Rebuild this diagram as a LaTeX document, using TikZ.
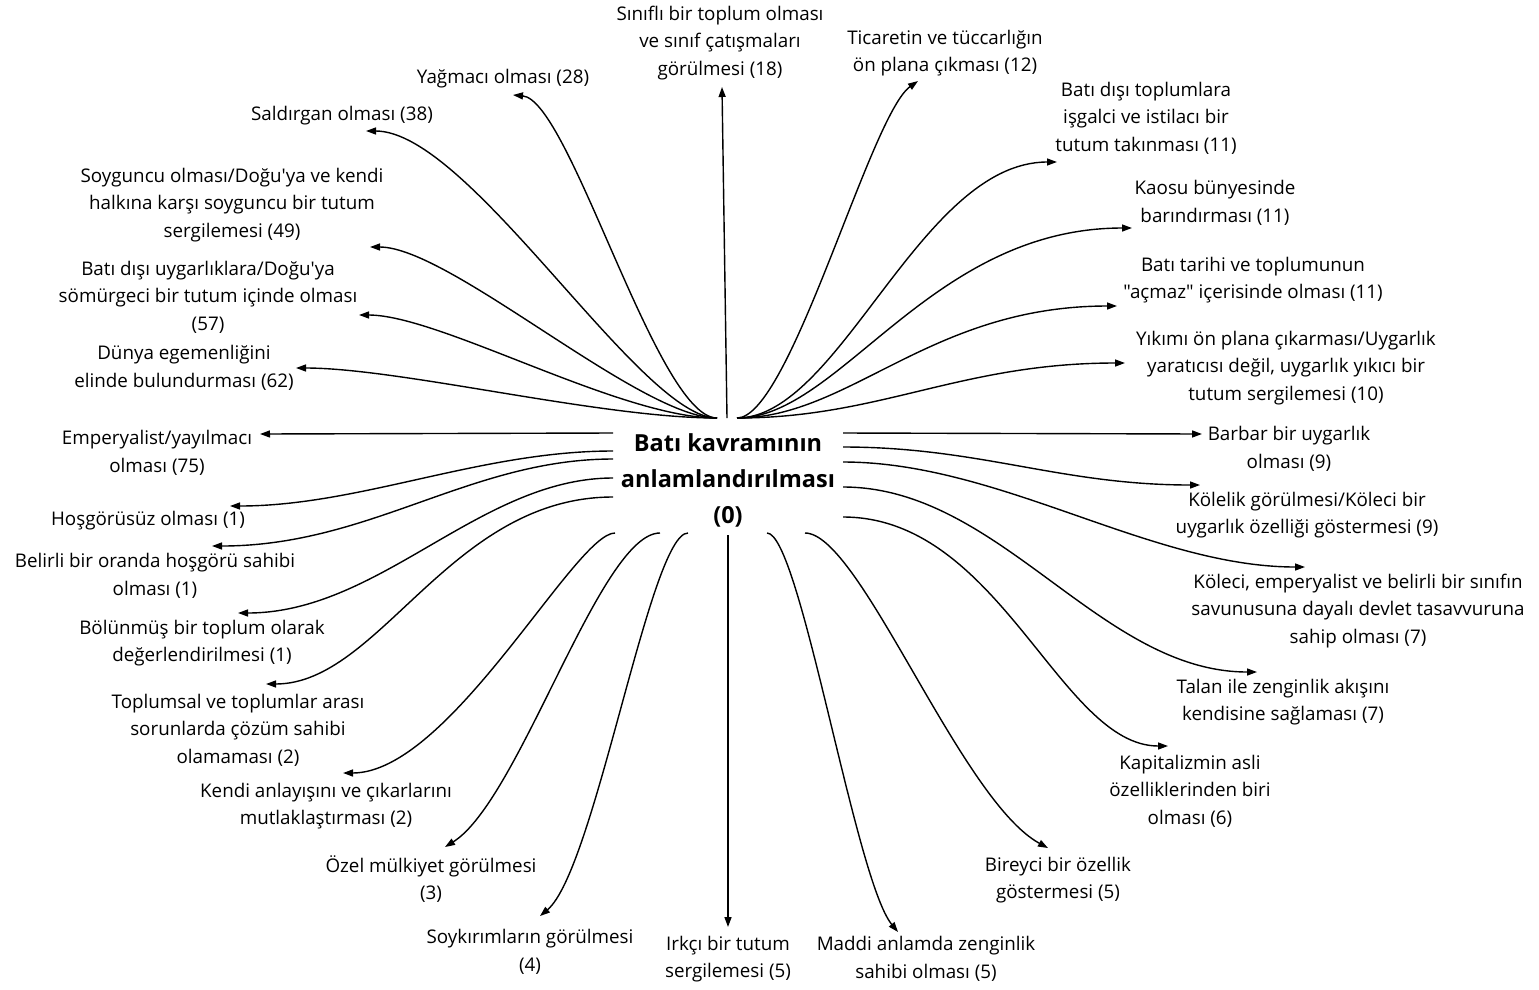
\documentclass[tikz,border=0pt]{standalone}
\usepackage{fontspec}
\setmainfont{Open Sans}[Ligatures=TeXOff]
\usetikzlibrary{arrows.meta}
\newcommand\lblfont{\fontsize{18.8}{27.5}\selectfont}
\newcommand\ctrfont{\fontsize{23.5}{36}\selectfont\bfseries}
\begin{document}
\begin{tikzpicture}[x=1pt,y=-1pt,
  lbl/.style={font=\lblfont, align=center, inner sep=0pt},
  ctr/.style={font=\ctrfont, align=center, inner sep=0pt},
  arr/.style={-{Triangle[length=10pt,width=7pt]}, line width=1.4pt}]
\useasboundingbox[fill=white] (0,0) rectangle (1539,989);
% central node
\node[ctr] (c) at (728,480) {Batı kavramının\\anlamlandırılması\\(0)};
% labels
\node[lbl] (t1) at (720,43) {Sınıflı bir toplum olması\\ve sınıf çatışmaları\\görülmesi (18)};
\node[lbl] (t2) at (945,53) {Ticaretin ve tüccarlığın\\ön plana çıkması (12)};
\node[lbl] (l1) at (503,79) {Yağmacı olması (28)};
\node[lbl] (l2) at (342,116) {Saldırgan olması (38)};
\node[lbl] (l3) at (232,205) {Soyguncu olması/Doğu'ya ve kendi\\halkına karşı soyguncu bir tutum\\sergilemesi (49)};
\node[lbl] (l4) at (208,297) {Batı dışı uygarlıklara/Doğu'ya\\sömürgeci bir tutum içinde olması\\(57)};
\node[lbl] (l5) at (184,368) {Dünya egemenliğini\\elinde bulundurması (62)};
\node[lbl] (l6) at (157,453) {Emperyalist/yayılmacı\\olması (75)};
\node[lbl] (l7) at (148,521) {Hoşgörüsüz olması (1)};
\node[lbl] (l8) at (155,576) {Belirli bir oranda hoşgörü sahibi\\olması (1)};
\node[lbl] (l9) at (202,643) {Bölünmüş bir toplum olarak\\değerlendirilmesi (1)};
\node[lbl] (l10) at (238,730) {Toplumsal ve toplumlar arası\\sorunlarda çözüm sahibi\\olamaması (2)};
\node[lbl] (l11) at (326,806) {Kendi anlayışını ve çıkarlarını\\mutlaklaştırması (2)};
\node[lbl] (b1) at (431,879) {Özel mülkiyet görülmesi\\(3)};
\node[lbl] (b2) at (530,952) {Soykırımların görülmesi\\(4)};
\node[lbl] (b3) at (728,959) {Irkçı bir tutum\\sergilemesi (5)};
\node[lbl] (b4) at (926,959) {Maddi anlamda zenginlik\\sahibi olması (5)};
\node[lbl] (r1) at (1058,880) {Bireyci bir özellik\\göstermesi (5)};
\node[lbl] (r2) at (1190,791) {Kapitalizmin asli\\özelliklerinden biri\\olması (6)};
\node[lbl] (r3) at (1283,702) {Talan ile zenginlik akışını\\kendisine sağlaması (7)};
\node[lbl] (r4) at (1358,611) {Köleci, emperyalist ve belirli bir sınıfın\\savunusuna dayalı devlet tasavvuruna\\sahip olması (7)};
\node[lbl] (r5) at (1307,515) {Kölelik görülmesi/Köleci bir\\uygarlık özelliği göstermesi (9)};
\node[lbl] (r6) at (1289,449) {Barbar bir uygarlık\\olması (9)};
\node[lbl] (r7) at (1286,368) {Yıkımı ön plana çıkarması/Uygarlık\\yaratıcısı değil, uygarlık yıkıcı bir\\tutum sergilemesi (10)};
\node[lbl] (r8) at (1253,280) {Batı tarihi ve toplumunun\\"açmaz" içerisinde olması (11)};
\node[lbl] (r9) at (1215,203) {Kaosu bünyesinde\\barındırması (11)};
\node[lbl] (r10) at (1146,118) {Batı dışı toplumlara\\işgalci ve istilacı bir\\tutum takınması (11)};
% start points on the central node
\coordinate (sTL) at (717,418);
\coordinate (sT) at (727,418);
\coordinate (sTR) at (737,418);
\coordinate (sL1) at (613,433);
\coordinate (sL2) at (613,451);
\coordinate (sL3) at (613,459);
\coordinate (sL4) at (613,478);
\coordinate (sL5) at (613,497);
\coordinate (sB1) at (615,533);
\coordinate (sB2) at (660,533);
\coordinate (sB3) at (688,533);
\coordinate (sB4) at (728,535);
\coordinate (sB5) at (767,533);
\coordinate (sB6) at (805,533);
\coordinate (sR1) at (843,433);
\coordinate (sR2) at (843,447);
\coordinate (sR3) at (843,462);
\coordinate (sR4) at (843,487);
\coordinate (sR5) at (843,517);
% arrow tips near the labels
\coordinate (et1) at (722,87);
\coordinate (et2) at (918,81);
\coordinate (el1) at (513,95);
\coordinate (el2) at (366,131);
\coordinate (el3) at (370,247);
\coordinate (el4) at (359,315);
\coordinate (el5) at (296,368);
\coordinate (el6) at (260,434);
\coordinate (el7) at (230,506);
\coordinate (el8) at (212,546);
\coordinate (el9) at (238,613);
\coordinate (el10) at (266,684);
\coordinate (el11) at (343,773);
\coordinate (eb1) at (445,847);
\coordinate (eb2) at (540,916);
\coordinate (eb3) at (728,927);
\coordinate (eb4) at (898,932);
\coordinate (er1) at (1048,848);
\coordinate (er2) at (1168,746);
\coordinate (er3) at (1257,672);
\coordinate (er4) at (1305,567);
\coordinate (er5) at (1200,485);
\coordinate (er6) at (1202,434);
\coordinate (er7) at (1125,363);
\coordinate (er8) at (1117,306);
\coordinate (er9) at (1132,228);
\coordinate (er10) at (1057,162);
% connectors
\draw[arr] (sT) -- (et1);
\draw[arr] (sTR) .. controls (790,418) and (870,115) .. (et2);
\draw[arr] (sTL) .. controls (657,418) and (570,100) .. (el1);
\draw[arr] (sTL) .. controls (640,418) and (470,131) .. (el2);
\draw[arr] (sTL) .. controls (640,418) and (450,247) .. (el3);
\draw[arr] (sTL) .. controls (620,418) and (440,315) .. (el4);
\draw[arr] (sTL) .. controls (600,418) and (400,368) .. (el5);
\draw[arr] (sL1) -- (el6);
\draw[arr] (sL2) .. controls (480,451) and (360,506) .. (el7);
\draw[arr] (sL3) .. controls (470,459) and (370,546) .. (el8);
\draw[arr] (sL4) .. controls (480,478) and (380,613) .. (el9);
\draw[arr] (sL5) .. controls (450,497) and (380,684) .. (el10);
\draw[arr] (sB1) .. controls (575,533) and (450,773) .. (el11);
\draw[arr] (sB2) .. controls (600,533) and (520,800) .. (eb1);
\draw[arr] (sB3) .. controls (650,533) and (595,870) .. (eb2);
\draw[arr] (sB4) -- (eb3);
\draw[arr] (sB5) .. controls (800,533) and (855,880) .. (eb4);
\draw[arr] (sB6) .. controls (860,533) and (960,800) .. (er1);
\draw[arr] (sR5) .. controls (1000,517) and (1060,746) .. (er2);
\draw[arr] (sR4) .. controls (1000,487) and (1100,672) .. (er3);
\draw[arr] (sR3) .. controls (1000,462) and (1150,567) .. (er4);
\draw[arr] (sR2) .. controls (980,447) and (1060,485) .. (er5);
\draw[arr] (sR1) -- (er6);
\draw[arr] (sTR) .. controls (880,418) and (960,363) .. (er7);
\draw[arr] (sTR) .. controls (850,418) and (930,306) .. (er8);
\draw[arr] (sTR) .. controls (840,418) and (930,228) .. (er9);
\draw[arr] (sTR) .. controls (840,418) and (920,162) .. (er10);
\end{tikzpicture}
\end{document}
